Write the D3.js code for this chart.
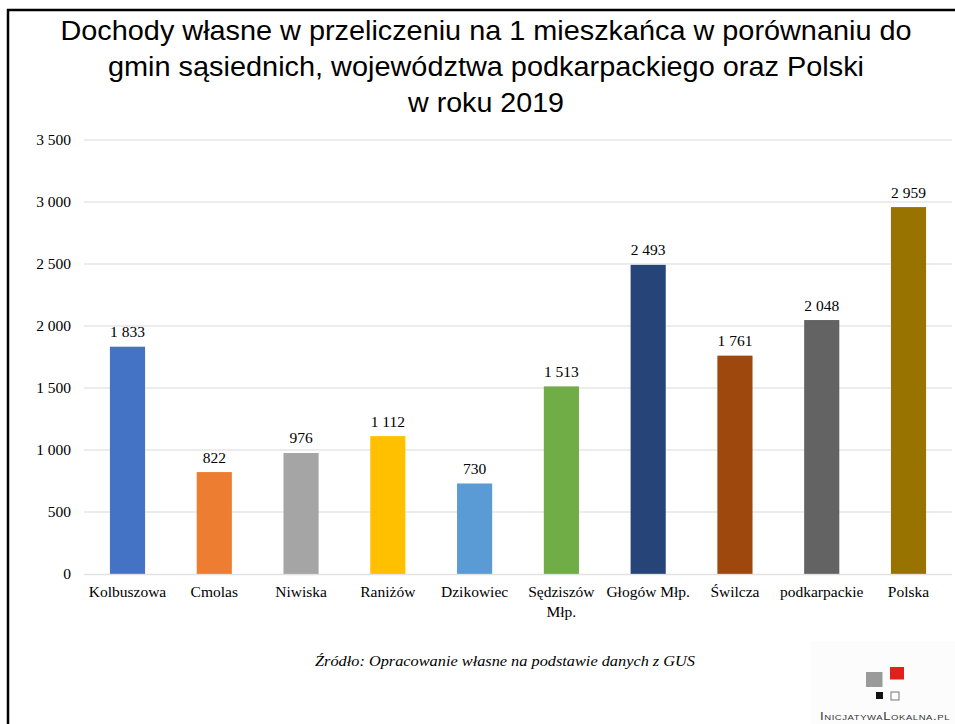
<!DOCTYPE html>
<html><head><meta charset="utf-8">
<script src="https://cdn.jsdelivr.net/npm/d3@7"></script>
<style>body{margin:0;background:#fff}svg{display:block}</style>
</head><body>
<svg id="c" width="955" height="724"></svg>
<script>
const titleLines = ["Dochody własne w przeliczeniu na 1 mieszkańca w porównaniu do",
  "gmin sąsiednich, województwa podkarpackiego oraz Polski",
  "w roku 2019"];
const categories = ["Kolbuszowa","Cmolas","Niwiska","Raniżów","Dzikowiec","Sędziszów Młp.","Głogów Młp.","Świlcza","podkarpackie","Polska"];
const categoryLines = [["Kolbuszowa"],["Cmolas"],["Niwiska"],["Raniżów"],["Dzikowiec"],["Sędziszów","Młp."],["Głogów Młp."],["Świlcza"],["podkarpackie"],["Polska"]];
const values = [1833,822,976,1112,730,1513,2493,1761,2048,2959];
const colors = ["#4472C4","#ED7D31","#A5A5A5","#FFC000","#5B9BD5","#70AD47","#264478","#9E480E","#636363","#997300"];
const yTicks = [0,500,1000,1500,2000,2500,3000,3500];
const sourceText = "Źródło: Opracowanie własne na podstawie danych z GUS";
const logoText = "InicjatywaLokalna.pl";

const svg = d3.select("#c");
const loc = d3.formatLocale({decimal:",",thousands:" ",grouping:[3],currency:["",""]});
const fmt = loc.format(",d");

// frame
svg.append("line").attr("x1",7).attr("x2",955).attr("y1",10).attr("y2",10).attr("stroke","#000").attr("stroke-width",2.5);
svg.append("line").attr("x1",8).attr("x2",8).attr("y1",9).attr("y2",724).attr("stroke","#000").attr("stroke-width",2.5);

// title
const tW = [851, 756, 156];
const tY = [40, 76, 111.5];
titleLines.forEach((t,i)=>{
  svg.append("text").attr("x",486).attr("y",tY[i]).attr("text-anchor","middle")
    .attr("font-family","Liberation Sans, Arial, sans-serif").attr("font-size",27.5).attr("fill","#000")
    .attr("textLength",tW[i]).attr("lengthAdjust","spacingAndGlyphs").text(t);
});

const x = d3.scaleBand().domain(categories).range([84.1,951.9]).padding(0);
const y = d3.scaleLinear().domain([0,3500]).range([574,140]);
const bw = x.bandwidth()*0.405;

// gridlines
svg.append("g").selectAll("line").data(yTicks.filter(d=>d>0)).join("line")
  .attr("x1",84).attr("x2",952).attr("y1",d=>y(d)).attr("y2",d=>y(d))
  .attr("stroke","#d9d9d9").attr("stroke-width",1);

// y axis labels
const yAxis = d3.axisLeft(y).tickValues(yTicks).tickFormat(fmt).tickSize(0).tickPadding(0);
const ga = svg.append("g").attr("transform","translate(71,0)").call(yAxis);
ga.select(".domain").remove();
ga.selectAll("text").attr("font-family","Liberation Serif, Times New Roman, serif").attr("font-size",15.5).attr("fill","#000");

// bars
svg.append("g").selectAll("rect").data(values).join("rect")
  .attr("x",(d,i)=>x(categories[i])+x.bandwidth()/2-bw/2).attr("width",bw)
  .attr("y",d=>y(d)).attr("height",d=>y(0)-y(d)).attr("fill",(d,i)=>colors[i]);

// zero line
svg.append("line").attr("x1",84).attr("x2",952).attr("y1",y(0)+0.5).attr("y2",y(0)+0.5)
  .attr("stroke","#d9d9d9").attr("stroke-width",1.5).attr("opacity",0.75);

// value labels
svg.append("g").selectAll("text").data(values).join("text")
  .attr("x",(d,i)=>x(categories[i])+x.bandwidth()/2).attr("y",d=>y(d)-9.5)
  .attr("text-anchor","middle").attr("font-family","Liberation Serif, Times New Roman, serif")
  .attr("font-size",15.5).attr("fill","#000").text(d=>fmt(d));

// category labels
const cg = svg.append("g");
categoryLines.forEach((lines,i)=>{
  lines.forEach((ln,j)=>{
    cg.append("text").attr("x",x(categories[i])+x.bandwidth()/2).attr("y",597+j*19.5)
      .attr("text-anchor","middle").attr("font-family","Liberation Serif, Times New Roman, serif")
      .attr("font-size",15.5).attr("fill","#000").text(ln);
  });
});

// source
svg.append("text").attr("x",505).attr("y",666).attr("text-anchor","middle")
  .attr("font-family","Liberation Serif, Times New Roman, serif").attr("font-style","italic")
  .attr("font-size",14).attr("fill","#000").attr("textLength",380).attr("lengthAdjust","spacingAndGlyphs").text(sourceText);

// logo
const lg = svg.append("g");
lg.append("rect").attr("x",811).attr("y",641).attr("width",144).attr("height",83).attr("fill","#fcfcfc");
lg.append("rect").attr("x",866).attr("y",672).attr("width",16.5).attr("height",15).attr("fill","#9a9a9a");
lg.append("rect").attr("x",890).attr("y",667).attr("width",14).attr("height",12.5).attr("fill","#e0201b");
lg.append("rect").attr("x",876).attr("y",692).attr("width",7).attr("height",7).attr("fill","#111");
lg.append("rect").attr("x",891).attr("y",692).attr("width",8).attr("height",8).attr("fill","#fff").attr("stroke","#777").attr("stroke-width",1);
lg.append("text").attr("x",820).attr("y",720).attr("font-family","Liberation Sans, Arial, sans-serif")
  .attr("font-size",11).attr("font-variant","small-caps").attr("fill","#333").attr("letter-spacing",0.5)
  .attr("textLength",130).attr("lengthAdjust","spacingAndGlyphs").text(logoText);
</script>
</body></html>
